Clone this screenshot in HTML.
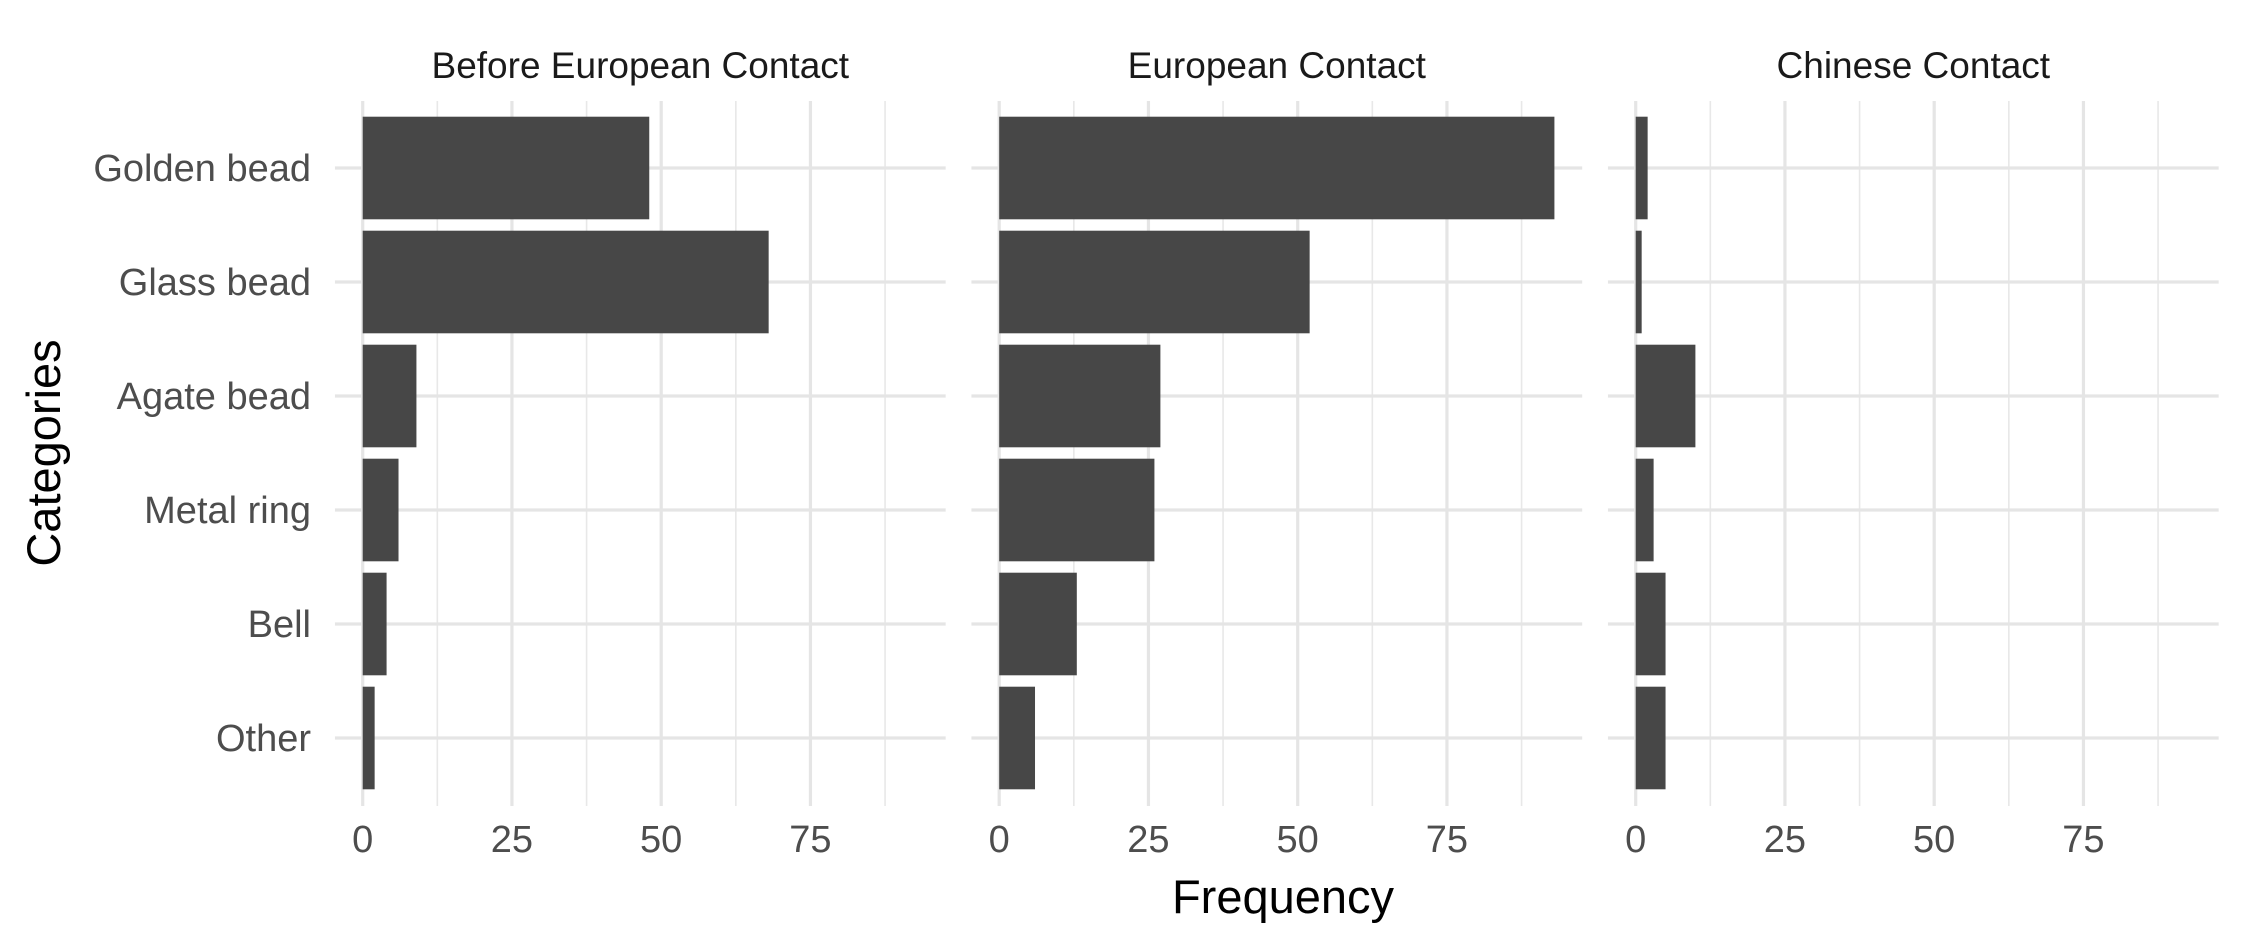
<!DOCTYPE html>
<html><head><meta charset="utf-8"><style>
html,body{margin:0;padding:0;background:#fff;width:2244px;height:944px;overflow:hidden}
svg text{font-family:"Liberation Sans",Arial,sans-serif}
</style></head><body>
<svg id="chart" width="2244" height="944" xmlns="http://www.w3.org/2000/svg"></svg>
<script>
const categories = ["Golden bead","Glass bead","Agate bead","Metal ring","Bell","Other"];
const panels = ["Before European Contact","European Contact","Chinese Contact"];
const beforeValues = [48,68,9,6,4,2];
const europeanValues = [93,52,27,26,13,6];
const chineseValues = [2,1,10,3,5,5];
const xTicks = [0,25,50,75];
const xMinor = [12.5,37.5,62.5,87.5];

const seriesList = [beforeValues, europeanValues, chineseValues];
const svgEl = document.getElementById('chart');
const NS = 'http://www.w3.org/2000/svg';
function mk(tag, attrs){const e=document.createElementNS(NS,tag);for(const k in attrs)e.setAttribute(k,attrs[k]);svgEl.appendChild(e);return e;}

const pxPerUnit = 5.97, xMinDom = -4.65, xMaxDom = 97.65;
const panelZero0 = 362.7, panelStep = 636.5;
const plotTop = 101, plotBottom = 806, band = 114, firstCenter = 168;
function xScale(p, v){ return panelZero0 + p*panelStep + v*pxPerUnit; }
function yScale(i){ return firstCenter + i*band; }

panels.forEach((title, p) => {
  const l = xScale(p, xMinDom), r = xScale(p, xMaxDom);
  xMinor.forEach(v => {
    const g = mk('line',{x1:xScale(p,v),x2:xScale(p,v),y1:plotTop,y2:plotBottom,stroke:'#e8e8e8','stroke-width':1.6});
    
    
  });
  xTicks.forEach(v => {
    const g = mk('line',{x1:xScale(p,v),x2:xScale(p,v),y1:plotTop,y2:plotBottom,stroke:'#e5e5e5','stroke-width':3.2});
    
    
    const t = mk('text',{x:xScale(p,v),y:852,'text-anchor':'middle','font-size':38,fill:'#4d4d4d'});
    t.textContent = v;
    
    
  });
  categories.forEach((c,i) => {
    const g = mk('line',{x1:l,x2:r,y1:yScale(i),y2:yScale(i),stroke:'#e5e5e5','stroke-width':3.2});
    
    
  });
  const st = mk('text',{x:(l+r)/2,y:78,'text-anchor':'middle','font-size':37,fill:'#1a1a1a'});
  st.textContent = title;
  
  
  seriesList[p].forEach((v,i) => {
    const x0 = xScale(p,0), x1 = xScale(p,v);
    const b = mk('rect',{x:x0,y:yScale(i)-band*0.45,width:Math.max(0,x1-x0),height:band*0.9,fill:'#474747'});
    
    
  });
});
categories.forEach((c,i) => {
  const t = mk('text',{x:311,y:yScale(i)+13,'text-anchor':'end','font-size':38,fill:'#4d4d4d'});
  t.textContent = c;
  
  
});
const xt = mk('text',{x:1283,y:913,'text-anchor':'middle','font-size':47,fill:'#000'});
xt.textContent = 'Frequency';


const yt = mk('text',{x:0,y:0,'text-anchor':'middle','font-size':47,fill:'#000',transform:'translate(60,453) rotate(-90)'});
yt.textContent = 'Categories';


</script>
</body></html>
